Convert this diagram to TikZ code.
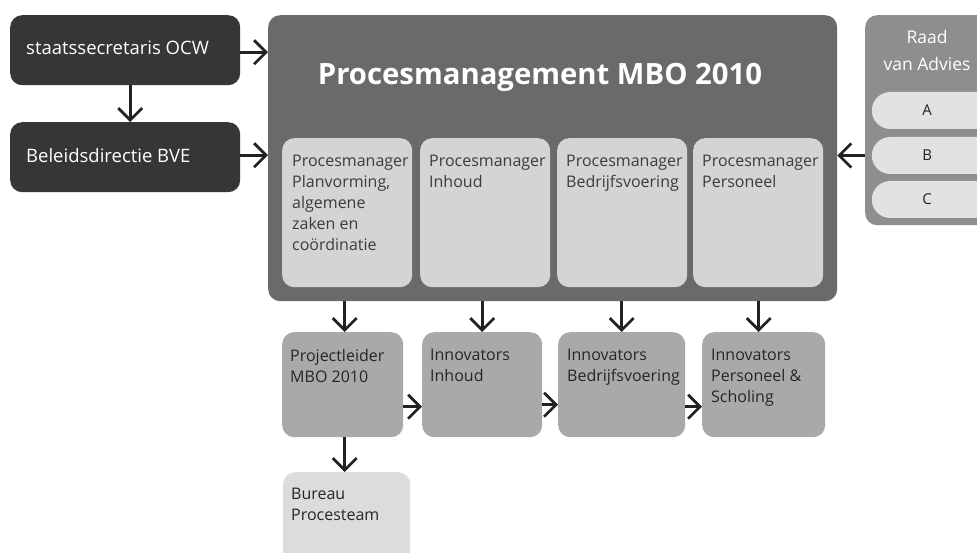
\documentclass[tikz,border=0pt]{standalone}
\usepackage{fontspec}
\setmainfont{Open Sans}
\usetikzlibrary{arrows.meta,shapes.misc}
\definecolor{darkc}{HTML}{363636}
\definecolor{mainc}{HTML}{6A6A6A}
\definecolor{innerc}{HTML}{D4D4D4}
\definecolor{raadc}{HTML}{8E8E8E}
\definecolor{pillc}{HTML}{E2E2E2}
\definecolor{lowc}{HTML}{A9A9A9}
\definecolor{burc}{HTML}{DCDCDC}
\definecolor{arrowc}{HTML}{222222}
\definecolor{innertxt}{HTML}{3C3C3C}
\definecolor{lowtxt}{HTML}{262626}
\begin{document}
\begin{tikzpicture}[x=1pt,y=-1pt,
  box/.style={draw=none, rounded corners=12pt, inner sep=0pt, anchor=north west},
  pill/.style={rounded rectangle, rounded rectangle east arc=none, draw=none, fill=pillc,
    inner sep=0pt, minimum width=110pt, minimum height=37pt, anchor=east,
    font=\fontsize{15}{17}\selectfont, text=arrowc},
  arr/.style={draw=arrowc, line width=2.7pt, -{Straight Barb[length=12pt,width=24pt]}},
  txt/.style={inner sep=0pt, align=left, anchor=north west, font=\fontsize{16}{21}\selectfont},
  wtxt/.style={inner sep=0pt, anchor=base west, text=white, font=\fontsize{18.5}{22}\selectfont},
]
\clip (0,0) rectangle (977,553);
\fill[white] (0,0) rectangle (977,553);

% left dark boxes
\node[box, fill=darkc, minimum width=230pt, minimum height=70pt] (staats) at (10,15) {};
\node[wtxt] (staatsT) at (26,55) {staatssecretaris OCW};
\node[box, fill=darkc, minimum width=230pt, minimum height=70pt] (beleid) at (10,122) {};
\node[wtxt] (beleidT) at (26,163) {Beleidsdirectie BVE};

% main box
\node[box, fill=mainc, minimum width=569pt, minimum height=286pt] (main) at (268,15) {};
\node[inner sep=0pt, anchor=base, text=white, font=\bfseries\fontsize{29.3}{34}\selectfont] (title) at (540,85) {Procesmanagement MBO 2010};

% inner boxes
\node[box, fill=innerc, minimum width=130pt, minimum height=149pt] (pm1) at (282,138) {};
\node[box, fill=innerc, minimum width=130pt, minimum height=149pt] (pm2) at (420,138) {};
\node[box, fill=innerc, minimum width=130pt, minimum height=149pt] (pm3) at (557,138) {};
\node[box, fill=innerc, minimum width=130pt, minimum height=149pt] (pm4) at (693,138) {};
\node[txt, text=innertxt] (pm1T) at (292,155) {Procesmanager\\Planvorming,\\algemene\\zaken en\\coördinatie};
\node[txt, text=innertxt] (pm2T) at (429,155) {Procesmanager\\Inhoud};
\node[txt, text=innertxt] (pm3T) at (566,155) {Procesmanager\\Bedrijfsvoering};
\node[txt, text=innertxt] (pm4T) at (702,155) {Procesmanager\\Personeel};

% Raad van Advies
\node[box, fill=raadc, minimum width=125pt, minimum height=210pt] (raad) at (865,15) {};
\node[inner sep=0pt, anchor=north, align=center, text=white, font=\fontsize{17.5}{27}\selectfont] (raadT) at (927,30) {Raad\\van Advies};
\node[pill] (pA) at (982,110.5) {A};
\node[pill] (pB) at (982,155.5) {B};
\node[pill] (pC) at (982,199.5) {C};

% lower boxes
\node[box, fill=lowc, minimum width=121pt, minimum height=105pt] (proj) at (282,332) {};
\node[box, fill=lowc, minimum width=120pt, minimum height=105pt] (inh) at (422,332) {};
\node[box, fill=lowc, minimum width=127pt, minimum height=105pt] (bed) at (558,332) {};
\node[box, fill=lowc, minimum width=123pt, minimum height=105pt] (pers) at (702,332) {};
\node[box, fill=burc, minimum width=127pt, minimum height=100pt] (bur) at (283,472) {};
\node[txt, text=lowtxt] (projT) at (290,349) {Projectleider\\MBO 2010};
\node[txt, text=lowtxt] (inhT) at (430,349) {Innovators\\Inhoud};
\node[txt, text=lowtxt] (bedT) at (567,349) {Innovators\\Bedrijfsvoering};
\node[txt, text=lowtxt] (persT) at (711,349) {Innovators\\Personeel \&\\Scholing};
\node[txt, text=lowtxt] (burT) at (291,488) {Bureau\\Procesteam};

% connectors
\draw[arr] ([yshift=-2pt]staats.east) -- ([yshift=-2pt]staats.east -| main.west);
\draw[arr] ([yshift=2pt]beleid.east) -- ([yshift=2pt]beleid.east -| main.west);
\draw[arr] ([xshift=5pt]staats.south) -- ([xshift=5pt]beleid.north);
\draw[arr] (pB -| raad.west) -- (pB -| main.east);
\draw[arr] ([xshift=2pt]proj.north |- main.south) -- ([xshift=2pt]proj.north);
\draw[arr] (inh.north |- main.south) -- (inh.north);
\draw[arr] (bed.north |- main.south) -- (bed.north);
\draw[arr] ([xshift=-5pt]pers.north |- main.south) -- ([xshift=-5pt]pers.north);
\draw[arr] ([yshift=-22pt]proj.east) -- ([yshift=-22pt]proj.east -| inh.west);
\draw[arr] ([yshift=-20pt]inh.east) -- ([yshift=-20pt]inh.east -| bed.west);
\draw[arr] ([yshift=-22pt]bed.east) -- ([yshift=-22pt]bed.east -| pers.west);
\draw[arr] ([xshift=2pt]proj.south) -- ([xshift=2pt]proj.south |- bur.north);
\end{tikzpicture}
\end{document}
